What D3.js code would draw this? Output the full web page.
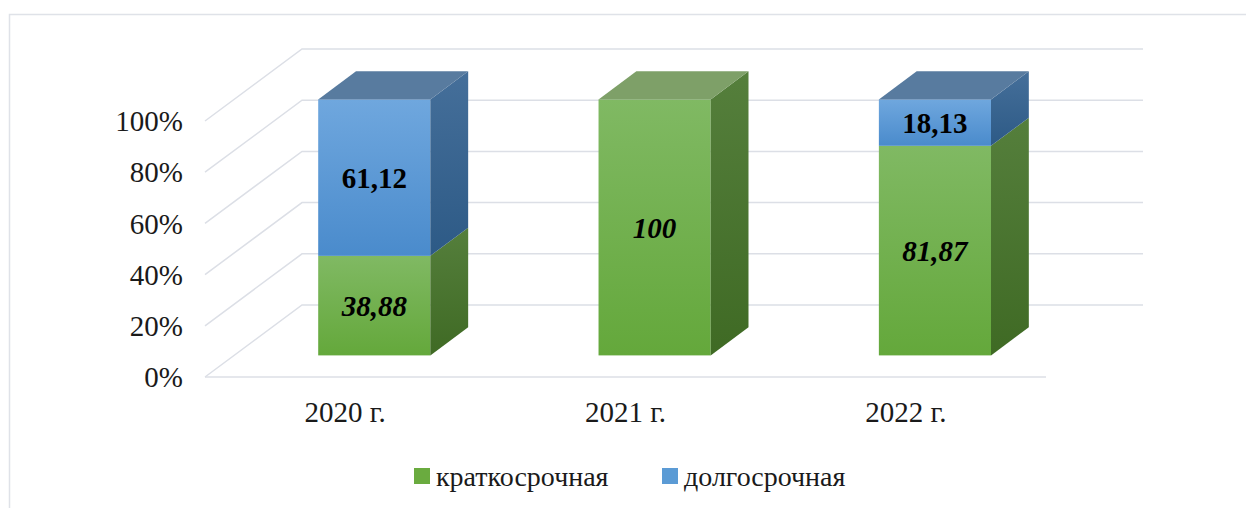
<!DOCTYPE html>
<html>
<head>
<meta charset="utf-8">
<script src="https://cdn.jsdelivr.net/npm/d3@7"></script>
<style>
  body { margin: 0; background: #fff; }
</style>
</head>
<body>
<svg id="chart"></svg>
<script>
const WIDTH = 1246;
const HEIGHT = 508;
const FONT = "'Liberation Serif', Tinos, 'Times New Roman', Times, 'DejaVu Serif', serif";

const categories = ["2020 г.", "2021 г.", "2022 г."];
const seriesNames = ["краткосрочная", "долгосрочная"];
const shortTerm = [38.88, 100, 81.87];
const longTerm = [61.12, 0, 18.13];
const shortLabels = ["38,88", "100", "81,87"];
const longLabels = ["61,12", "", "18,13"];
const yTicks = [0, 20, 40, 60, 80, 100];

const svg = d3.select("#chart").attr("width", WIDTH).attr("height", HEIGHT)
	.attr("font-family", FONT);

// oblique projection: depth z in [0,1], front plane z=0
const DEPTH_DX = 97;
const DEPTH_DY = -72;
const xScale = d3.scaleBand(categories, [205, 1046]).paddingInner(0).paddingOuter(0);
const yScale = d3.scaleLinear([0, 100], [377, 121]);
const proj = (x, v, z) => [x + z * DEPTH_DX, yScale(v) + z * DEPTH_DY];
const BAR_Z0 = 0.3;
const BAR_Z1 = 0.69;
const BAR_FRAC = 0.4;

const defs = svg.append("defs");
function vGrad(id, top, bottom) {
	const g = defs.append("linearGradient").attr("id", id).attr("x1", 0).attr("y1", 0).attr("x2", 0).attr("y2", 1);
	g.append("stop").attr("offset", "0%").attr("stop-color", top);
	g.append("stop").attr("offset", "100%").attr("stop-color", bottom);
}
vGrad("g-front", "#80b963", "#64a83b");
vGrad("g-side", "#557f3c", "#3f6a24");
vGrad("b-front", "#6fa7de", "#4a8bcc");
vGrad("b-side", "#456f9a", "#2d5a86");

const colors = [
	{ front: "url(#g-front)", side: "url(#g-side)", top: "#7ea068", legend: "#6aab3f" },
	{ front: "url(#b-front)", side: "url(#b-side)", top: "#587b9f", legend: "#5b9bd5" },
];

// outer border
svg.append("path")
	.attr("d", `M9.5,${HEIGHT} V14.5 H${WIDTH}`)
	.attr("fill", "none")
	.attr("stroke", "#dfe2e8")
	.attr("stroke-width", 1.5);

const grid = svg.append("g").attr("stroke", "#dcdfe6").attr("stroke-width", 1.5).attr("fill", "none");
const x0 = xScale.range()[0];
const x1 = xScale.range()[1];
yTicks.forEach(t => {
	const a = proj(x0, t, 0);
	const b = proj(x0, t, 1);
	const c = proj(x1, t, 1);
	grid.append("path").attr("d", d3.line()([a, b, c]));
});
// floor front edge
grid.append("path").attr("d", d3.line()([proj(x0, 0, 0), proj(x1, 0, 0)]));

// y labels
svg.append("g").selectAll("text").data(yTicks).join("text")
	.attr("x", 183)
	.attr("y", d => yScale(d))
	.attr("dy", "0.35em")
	.attr("text-anchor", "end")
	.attr("font-size", 29)
	.attr("fill", "#1a1a1a")
	.text(d => d + "%");

// x labels
svg.append("g").selectAll("text").data(categories).join("text")
	.attr("x", d => xScale(d) + xScale.bandwidth() / 2)
	.attr("y", 422)
	.attr("text-anchor", "middle")
	.attr("font-size", 29)
	.attr("fill", "#1a1a1a")
	.text(d => d);

// bars
const bars = svg.append("g");
categories.forEach((cat, i) => {
	const bw = xScale.bandwidth() * BAR_FRAC;
	const xl = xScale(cat) + (xScale.bandwidth() - bw) / 2;
	const xr = xl + bw;
	const segs = [
		{ from: 0, to: shortTerm[i], c: colors[0], label: shortLabels[i], italic: true },
		{ from: shortTerm[i], to: shortTerm[i] + longTerm[i], c: colors[1], label: longLabels[i], italic: false },
	].filter(s => s.to > s.from);
	segs.forEach((s, k) => {
		const fbl = proj(xl, s.from, BAR_Z0);
		const ftr = proj(xr, s.to, BAR_Z0);
		bars.append("rect")
			.attr("x", fbl[0]).attr("y", ftr[1])
			.attr("width", ftr[0] - fbl[0]).attr("height", fbl[1] - ftr[1])
			.attr("fill", s.c.front);
		bars.append("path")
			.attr("d", d3.line()([
				proj(xr, s.from, BAR_Z0), proj(xr, s.from, BAR_Z1),
				proj(xr, s.to, BAR_Z1), proj(xr, s.to, BAR_Z0),
			]) + "Z")
			.attr("fill", s.c.side);
		if (k === segs.length - 1) {
			bars.append("path")
				.attr("d", d3.line()([
					proj(xl, s.to, BAR_Z0), proj(xl, s.to, BAR_Z1),
					proj(xr, s.to, BAR_Z1), proj(xr, s.to, BAR_Z0),
				]) + "Z")
				.attr("fill", s.c.top);
		}
		const mid = proj((xl + xr) / 2, (s.from + s.to) / 2, BAR_Z0);
		bars.append("text")
			.attr("x", mid[0]).attr("y", mid[1])
			.attr("dy", "0.35em")
			.attr("text-anchor", "middle")
			.attr("font-size", 29)
			.attr("font-weight", "bold")
			.attr("font-style", s.italic ? "italic" : "normal")
			.attr("fill", "#000")
			.text(s.label);
	});
});

// legend
const legendX = [414, 662];
const legend = svg.append("g");
seriesNames.forEach((name, i) => {
	legend.append("rect")
		.attr("x", legendX[i]).attr("y", 468)
		.attr("width", 16).attr("height", 16)
		.attr("fill", colors[i].legend);
	legend.append("text")
		.attr("x", legendX[i] + 22).attr("y", 476)
		.attr("dy", "0.35em")
		.attr("font-size", 28)
		.attr("fill", "#1a1a1a")
		.text(name);
});
</script>
</body>
</html>
